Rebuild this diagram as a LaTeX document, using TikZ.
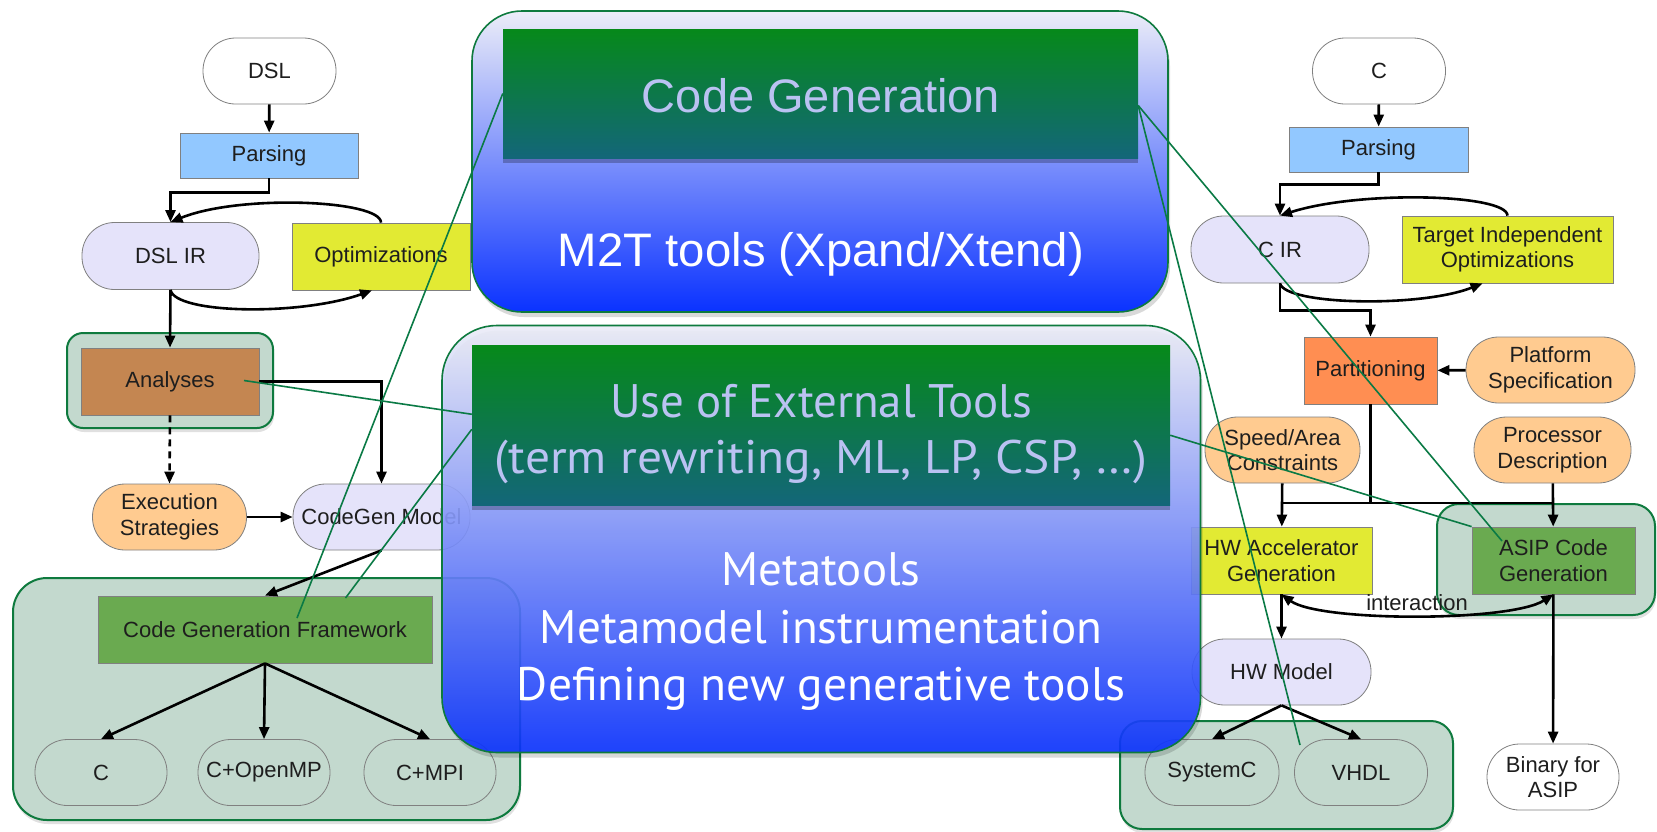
\documentclass[tikz,border=0pt]{standalone}
\usepackage{graphicx}
\usepackage{fontspec}
\setmainfont{Liberation Sans}
\newfontfamily\humfont{PT Sans}
\usetikzlibrary{arrows.meta,calc,shadows}

\definecolor{ink}{HTML}{1E1E1E}
\definecolor{edgegrey}{HTML}{808080}
\definecolor{parseblue}{HTML}{92C8FF}
\definecolor{optyellow}{HTML}{E2EA33}
\definecolor{irlav}{HTML}{E5E3FA}
\definecolor{anbrown}{HTML}{C48651}
\definecolor{inorange}{HTML}{FFCB90}
\definecolor{grpfill}{HTML}{C3D9CE}
\definecolor{grpline}{HTML}{0E7A3E}
\definecolor{fwgreen}{HTML}{6AAA50}
\definecolor{partorange}{HTML}{FF8E52}
\definecolor{hilite}{HTML}{0A7A45}
\definecolor{boxtop}{HTML}{ECEDF8}
\definecolor{boxmid}{HTML}{7D8FF0}
\definecolor{boxbot}{HTML}{0A32FF}
\definecolor{bandtop}{HTML}{06891A}
\definecolor{bandbot}{HTML}{136679}
\definecolor{pale}{HTML}{BAC2F2}

\begin{document}
\begin{tikzpicture}[x=1pt, y=-1pt,
  base/.style={draw=edgegrey, line width=0.8pt, text=ink, align=center,
    inner sep=0pt, font=\fontsize{22}{25.5}\selectfont},
  pill/.style={base, rectangle, rounded corners=32.5pt, minimum height=66pt},
  blk/.style={base, rectangle, minimum height=67pt},
  grp/.style={fill=grpfill, draw=grpline, line width=2pt, inner sep=0pt,
    drop shadow={fill=black, opacity=0.12, shadow xshift=1pt, shadow yshift=-4pt}},
  wire/.style={line width=2.6pt, draw=black},
  arr/.style={wire, -{Triangle[length=12pt,width=10pt]}},
  hl/.style={draw=hilite, line width=1.6pt},
  bigbox/.style={draw=grpline, line width=1.6pt, top color=boxtop,
    middle color=boxmid, bottom color=boxbot,
    drop shadow={fill=black, opacity=0.15, shadow xshift=2pt, shadow yshift=-5pt}},
  band/.style={rectangle, inner sep=0pt, top color=bandtop, bottom color=bandbot,
    drop shadow={fill=black, opacity=0.25, shadow xshift=0pt, shadow yshift=-5pt}},
  bigtxt/.style={anchor=base, inner sep=0pt}
]
\useasboundingbox (0,0) rectangle (1657,831);
\fill[white] (0,0) rectangle (1657,831);

% ---------- group backgrounds ----------
\node[grp, rounded corners=16pt, minimum width=206pt, minimum height=95pt] (angrp) at (170,380.5) {};
\node[grp, rounded corners=34pt, minimum width=507pt, minimum height=242pt] (fwgrp) at (266.5,699) {};
\node[grp, rounded corners=22pt, minimum width=218pt, minimum height=111pt] (asipgrp) at (1546,559.5) {};
\node[grp, rounded corners=22pt, minimum width=333pt, minimum height=108pt] (hwgrp) at (1286.5,775) {};

% ---------- DSL flow (left) ----------
\node[pill, fill=white, minimum width=133pt] (dsl) at (269.5,71) {DSL};
\node[blk, fill=parseblue, minimum width=178pt, minimum height=45pt] (parseL) at (269,155.5) {Parsing};
\node[pill, fill=irlav, minimum width=177pt, minimum height=67pt] (dslir) at (170.5,256) {DSL IR};
\node[blk, fill=optyellow, minimum width=178pt] (opt) at (381,256.5) {Optimizations};
\node[blk, fill=anbrown, minimum width=178pt] (an) at (170,381.5) {Analyses};
\node[pill, fill=inorange, minimum width=154pt] (exec) at (169.5,517) {Execution\\Strategies};
\node[pill, fill=irlav, minimum width=177pt] (cgm) at (381.5,517) {CodeGen Model};
\node[blk, fill=fwgreen, minimum width=334pt] (cgf) at (265,629.5) {Code Generation Framework};
\node[pill, fill=grpfill, minimum width=132pt] (outc) at (101,772.5) {C};
\node[pill, fill=grpfill, minimum width=132pt] (outomp) at (264,772.5) {C+OpenMP};
\node[pill, fill=grpfill, minimum width=132pt] (outmpi) at (430,772.5) {C+MPI};

\draw[arr] (dsl) -- (parseL);
\draw[arr] (parseL.south) -- ++(0,14) -| (dslir.north);
\draw[arr] (opt.north) .. controls (381,200) and (240,194) .. (dslir.north);
\draw[arr] (dslir.south) .. controls (175,314) and (300,316) .. ($(opt.south)+(-9,0)$);
\draw[arr] (dslir.south) -- (an.north);
\draw[arr] (an.east) -| (cgm.north);
\draw[arr, dash pattern=on 7pt off 5pt] (an.south) -- (exec.north);
\draw[arr] (exec) -- (cgm);
\draw[arr] (cgm.south) -- (cgf.north);
\draw[arr] (cgf.south) -- (outc.north);
\draw[arr] (cgf.south) -- (outomp.north);
\draw[arr] (cgf.south) -- (outmpi.north);

% ---------- C flow (right) ----------
\node[pill, fill=white, minimum width=133pt] (csrc) at (1379,71) {C};
\node[blk, fill=parseblue, minimum width=179pt, minimum height=45pt] (parseR) at (1378.5,149.5) {Parsing};
\node[pill, fill=irlav, minimum width=178pt, minimum height=67pt] (cir) at (1280,249.5) {C IR};
\node[blk, fill=optyellow, minimum width=211pt] (tio) at (1507.5,249.5) {Target Independent\\Optimizations};
\node[blk, fill=partorange, minimum width=133pt] (part) at (1370.5,370.5) {Partitioning};
\node[pill, fill=inorange, minimum width=169pt] (plat) at (1550.5,370) {Platform\\Specification};
\node[pill, fill=inorange, minimum width=155pt] (speed) at (1282.5,450) {Speed/Area\\Constraints};
\node[pill, fill=inorange, minimum width=157pt] (proc) at (1552.5,450) {Processor\\Description};
\node[blk, fill=optyellow, minimum width=181pt] (hwacc) at (1281.5,560.5) {HW Accelerator\\Generation};
\node[blk, fill=fwgreen, minimum width=163pt] (asip) at (1553.5,560.5) {ASIP Code\\Generation};
\node[pill, fill=irlav, minimum width=179pt] (hwm) at (1281.5,672) {HW Model};
\node[pill, fill=grpfill, minimum width=134pt] (sysc) at (1212,772.5) {SystemC};
\node[pill, fill=grpfill, minimum width=133pt] (vhdl) at (1361,772.5) {VHDL};
\node[pill, fill=white, minimum width=132pt] (bin) at (1553,777) {Binary for\\ASIP};

\draw[arr] (csrc) -- (parseR);
\draw[arr] (parseR.south) -- ++(0,12) -| (cir.north);
\draw[arr] (tio.north) .. controls (1507,194) and (1360,190) .. (cir.north);
\draw[arr] (cir.south) .. controls (1285,305) and (1420,308) .. ($(tio.south)+(-25,0)$);
\draw[arr] (cir.south) -- ++(0,27) -| (part.north);
\draw[arr] (plat) -- (part);
\coordinate (jn) at (1370.5,503);
\draw[wire] (part.south) -- (jn);
\draw[wire] (speed.south |- jn) -- (proc.south |- jn);
\draw[arr] (speed) -- (hwacc);
\draw[arr] (proc) -- (asip);
\draw[wire, {Triangle[length=12pt,width=10pt]}-{Triangle[length=12pt,width=10pt]}]
  (hwacc.south) .. controls (1320,622) and (1510,622) .. (asip.south);
\node[text=ink, inner sep=0pt, font=\fontsize{22}{25.5}\selectfont] (inter) at (1417,603) {interaction};
\draw[arr] (hwacc) -- (hwm);
\draw[arr] (hwm.south) -- (sysc.north);
\draw[arr] (hwm.south) -- (vhdl.north);
\draw[arr] (asip) -- (bin);

% ---------- central panels ----------
\path[bigbox, rounded corners=50pt] (472,11) rectangle (1168,312);
\node[band, minimum width=635pt, minimum height=129pt] (band1) at (820.5,93.5) {};
\node[bigtxt, text=pale] (cgtxt) at (821,112)
  {\resizebox{358pt}{\height}{\fontsize{47}{50}\selectfont Code Generation}};
\node[bigtxt, text=white] (m2t) at (821,266)
  {\resizebox{526pt}{\height}{\fontsize{47}{50}\selectfont M2T tools (Xpand/Xtend)}};

\path[bigbox, rounded corners=55pt, fill opacity=0.9] (442,325.5) rectangle (1200.5,752.5);
\node[band, minimum width=698pt, minimum height=159.5pt] (band2) at (821,425.25) {};
\node[bigtxt, text=pale] (ext1) at (821,417)
  {\resizebox{422pt}{\height}{\humfont\fontsize{47}{50}\selectfont Use of External Tools}};
\node[bigtxt, text=pale] (ext2) at (821,473)
  {\resizebox{652pt}{\height}{\humfont\fontsize{47}{50}\selectfont (term rewriting, ML, LP, CSP, …)}};
\node[bigtxt, text=white] (meta1) at (821,585)
  {\resizebox{199pt}{\height}{\humfont\fontsize{47}{50}\selectfont Metatools}};
\node[bigtxt, text=white] (meta2) at (821,643)
  {\resizebox{562pt}{\height}{\humfont\fontsize{47}{50}\selectfont Metamodel instrumentation}};
\node[bigtxt, text=white] (meta3) at (821,700)
  {\resizebox{608pt}{\height}{\humfont\fontsize{47}{50}\selectfont Defining new generative tools}};

% ---------- highlight links ----------
\coordinate (hAn) at (244,380.5);
\coordinate (hFw1) at (297,618);
\coordinate (hFw2) at (345.5,598);
\coordinate (hAsip) at (1502,541);
\coordinate (hVhdl) at (1300,745);
\draw[hl] (hAn) -- ($(band2.west)+(0,-11)$);
\draw[hl] (hFw1) -- (band1.west);
\draw[hl] (hFw2) -- ($(band2.west)+(0,4)$);
\draw[hl] ($(band1.east)+(0,12)$) -- (hAsip);
\draw[hl] ($(band1.east)+(0,12)$) -- (hVhdl);
\draw[hl] ($(band2.east)+(0,10)$) -- (asip.north west);
\end{tikzpicture}
\end{document}
